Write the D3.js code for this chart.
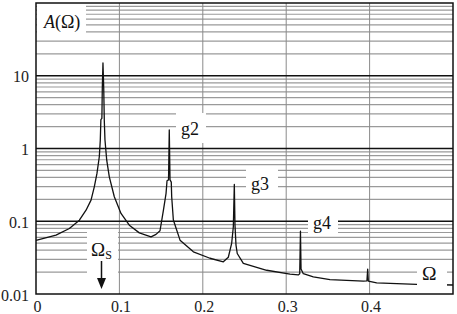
<!DOCTYPE html>
<html>
<head>
<meta charset="UTF-8">
<script src="https://d3js.org/d3.v7.min.js"></script>
</head>
<body style="margin:0">
<svg id="chart" width="457" height="314"></svg>
<script>
// frequency (Omega) and amplitude A(Omega)
const omega = [
  0.000, 0.024, 0.040, 0.052, 0.060, 0.066, 0.0699, 0.0731, 0.0759, 0.0771,
  0.0778, 0.0790, 0.0795, 0.0803, 0.0812, 0.0819, 0.0827,
  0.0848, 0.0879, 0.0939, 0.1019, 0.1119, 0.1239, 0.1379, 0.1439, 0.1487,
  0.1527, 0.1559, 0.1571, 0.1589, 0.1598, 0.1607, 0.1622, 0.1627, 0.1647,
  0.1727, 0.1887, 0.2086, 0.2246, 0.2306, 0.2346, 0.2366, 0.2378, 0.2386,
  0.2398, 0.2413, 0.2486, 0.2766, 0.3046, 0.3145, 0.3162, 0.3171, 0.3178,
  0.3205, 0.3325, 0.3525, 0.3925, 0.3968, 0.3977, 0.3985, 0.4085, 0.4325,
  0.4565, 0.5000
];
const amp = [
  0.0545, 0.0644, 0.0796, 0.1035, 0.142, 0.195, 0.297, 0.455, 0.77, 1.31,
  2.5, 2.6, 6.8, 15, 6.8, 2.4, 1.31,
  0.69, 0.408, 0.217, 0.128, 0.0883, 0.0692, 0.061, 0.066, 0.074,
  0.14, 0.24, 0.36, 0.37, 1.8, 0.37, 0.345, 0.217, 0.104,
  0.055, 0.038, 0.031, 0.0277, 0.032, 0.0495, 0.084, 0.32, 0.088,
  0.047, 0.036, 0.0263, 0.0212, 0.0187, 0.0183, 0.019, 0.073, 0.022,
  0.019, 0.0172, 0.0158, 0.015, 0.0152, 0.022, 0.015, 0.0142, 0.0139,
  0.0136, 0.0133
];

const xTicks = [0, 0.1, 0.2, 0.3, 0.4];
const xTickLabels = ["0", "0.1", "0.2", "0.3", "0.4"];
const yTicks = [0.01, 0.1, 1, 10];
const yTickLabels = ["0.01", "0.1", "1", "10"];
const xDomain = [0, 0.5];
const yDomain = [0.01, 100];

const svg = d3.select("#chart");
const margin = {top: 3, right: 4, bottom: 20, left: 36};
const width = 457, height = 314;
const serif = "'Liberation Serif'";

const x = d3.scaleLinear().domain(xDomain).range([margin.left, width - margin.right]);
const y = d3.scaleLog().domain(yDomain).range([height - margin.bottom, margin.top]);

// horizontal grid: minor lines gray, decade lines black
const minor = [];
const major = [];
for (let e = -2; e < 2; e++) {
  const base = Math.pow(10, e);
  for (let k = 1; k <= 9; k++) {
    const v = +(base * k).toPrecision(3);
    if (k === 1) { if (e > -2) major.push(v); } else minor.push(v);
  }
}

svg.append("g").selectAll("line").data(minor).join("line")
  .attr("x1", x(0)).attr("x2", x(0.5))
  .attr("y1", d => y(d)).attr("y2", d => y(d))
  .attr("stroke", "#9a9a9a").attr("stroke-width", 1.2);

svg.append("g").selectAll("line").data(xTicks.slice(1)).join("line")
  .attr("x1", d => x(d)).attr("x2", d => x(d))
  .attr("y1", y(100)).attr("y2", y(0.01))
  .attr("stroke", "#8a8a8a").attr("stroke-width", 1);

svg.append("g").selectAll("line").data(major).join("line")
  .attr("x1", x(0)).attr("x2", x(0.5))
  .attr("y1", d => y(d)).attr("y2", d => y(d))
  .attr("stroke", "#111").attr("stroke-width", 1.5);

// the curve
const pts = omega.map((o, i) => ({o: o, a: amp[i]}));
const line = d3.line().x(d => x(d.o)).y(d => y(d.a));
svg.append("path").datum(pts)
  .attr("fill", "none").attr("stroke", "#111").attr("stroke-width", 1.3)
  .attr("stroke-linejoin", "round")
  .attr("d", line);

// white boxes behind the labels
const boxes = [
  [37, 5, 49, 28],
  [176, 113, 30, 30],
  [246, 167, 32, 25],
  [308, 205, 30, 29],
  [417, 262, 30, 26],
  [87, 230, 31, 60]
];
svg.append("g").selectAll("rect").data(boxes).join("rect")
  .attr("x", d => d[0]).attr("y", d => d[1])
  .attr("width", d => d[2]).attr("height", d => d[3])
  .attr("fill", "#fff");

// frame
svg.append("rect")
  .attr("x", x(0)).attr("y", y(100))
  .attr("width", x(0.5) - x(0)).attr("height", y(0.01) - y(100))
  .attr("fill", "none").attr("stroke", "#111").attr("stroke-width", 1.5);

// axes (labels only)
const xAxis = d3.axisBottom(x).tickValues(xTicks).tickSize(0)
  .tickFormat((d, i) => xTickLabels[i]);
const gx = svg.append("g").attr("transform", `translate(1,${y(0.01) + 4})`).call(xAxis);
gx.attr("font-family", "Liberation Serif").attr("font-size", 16);
gx.select(".domain").remove();
gx.selectAll("text").style("font-family", serif).attr("fill", "#222");

const yAxis = d3.axisLeft(y).tickValues(yTicks).tickSize(0)
  .tickFormat((d, i) => yTickLabels[i]);
const gy = svg.append("g").attr("transform", `translate(${x(0) - 4},1)`).call(yAxis);
gy.attr("font-family", "Liberation Serif").attr("font-size", 16);
gy.select(".domain").remove();
gy.selectAll("text").style("font-family", serif).attr("fill", "#222");

// annotations
const notes = svg.append("g").attr("font-family", "Liberation Serif").attr("fill", "#111");
function label(px, py, size, txt) {
  return notes.append("text").attr("x", px).attr("y", py)
    .attr("font-size", size)
    .style("font-family", serif)
    .text(txt);
}
const aLab = label(44, 28, 18, null);
aLab.append("tspan").attr("font-style", "italic").text("A");
aLab.append("tspan").text("(Ω)");

label(181, 135, 18, "g2");
label(251, 190, 18, "g3");
label(313, 229, 18, "g4");
label(422, 280, 19.5, "Ω");

const sLab = label(91, 256, 19, null);
sLab.append("tspan").text("Ω");
sLab.append("tspan").attr("font-size", 12).attr("dy", 3).text("S");

// arrow down to Omega_s
svg.append("line")
  .attr("x1", 101.5).attr("x2", 101.5).attr("y1", 261).attr("y2", 280)
  .attr("stroke", "#111").attr("stroke-width", 1.5);
svg.append("path")
  .attr("d", "M97,278 L106,278 L101.5,289 Z")
  .attr("fill", "#111");
</script>
</body>
</html>
